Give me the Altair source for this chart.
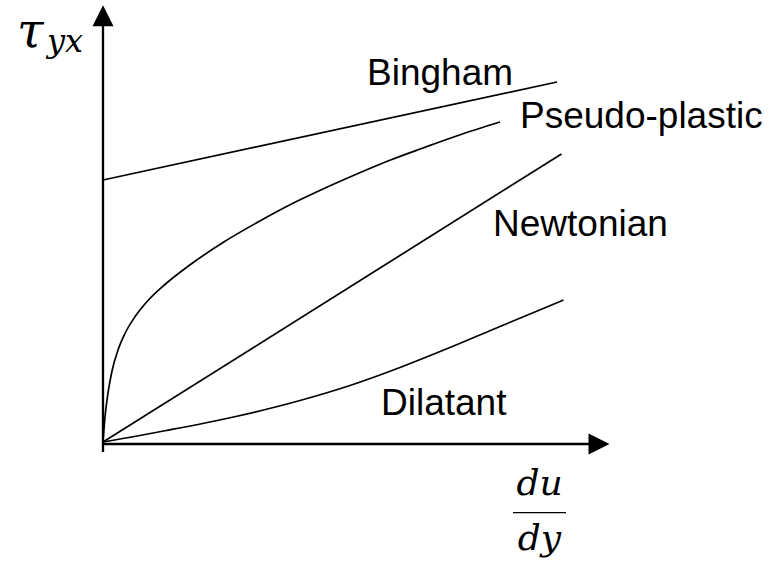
import altair as alt
import pandas as pd

# Flow curves: shear stress vs. shear rate (arbitrary units)
bingham_x = [0.0, 9.08]
bingham_y = [5.24, 7.20]

pseudo_x = [0.0, 0.04, 0.10, 0.18, 0.30, 0.45, 0.65, 0.90, 1.25, 1.75,
            2.40, 3.10, 3.75, 4.40, 5.10, 5.75, 6.40, 7.10, 7.94]
pseudo_y = [0.0, 0.50, 0.98, 1.42, 1.84, 2.19, 2.52, 2.83, 3.16, 3.55,
            3.99, 4.40, 4.75, 5.06, 5.37, 5.64, 5.88, 6.13, 6.40]

newton_x = [0.0, 9.17]
newton_y = [0.0, 5.76]

dilatant_x = [0.0, 1.27, 2.61, 3.94, 4.94, 5.94, 6.94, 7.94, 9.21]
dilatant_y = [0.0, 0.23, 0.50, 0.83, 1.13, 1.49, 1.89, 2.31, 2.84]

# Curve names and where each name is written
label_names = ["Bingham", "Pseudo-plastic", "Newtonian", "Dilatant"]
label_x = [5.28, 8.34, 7.80, 5.56]
label_y = [7.14, 6.28, 4.12, 0.54]

W, H = 777, 568
xs = alt.Scale(domain=[-2.06, 13.48], nice=False, zero=False)
ys = alt.Scale(domain=[-2.52, 8.84], nice=False, zero=False)


def xy(xf="x", yf="y"):
    return dict(
        x=alt.X(f"{xf}:Q", scale=xs, axis=None),
        y=alt.Y(f"{yf}:Q", scale=ys, axis=None),
    )


rows = []
for name, xv, yv in [("Bingham", bingham_x, bingham_y),
                     ("Pseudo-plastic", pseudo_x, pseudo_y),
                     ("Newtonian", newton_x, newton_y),
                     ("Dilatant", dilatant_x, dilatant_y)]:
    for i, (a, b) in enumerate(zip(xv, yv)):
        rows.append({"fluid": name, "x": a, "y": b, "i": i})
curves_df = pd.DataFrame(rows)

curves = alt.Chart(curves_df).mark_line(
    color="black", strokeWidth=1.7, interpolate="monotone"
).encode(detail="fluid:N", order="i:Q", **xy())

# Coordinate axes with arrow heads
axes_df = pd.DataFrame({
    "x": [-0.02, 0.0], "x2": [9.74, 0.0],
    "y": [-0.04, -0.20], "y2": [-0.04, 8.32],
})
axes = alt.Chart(axes_df).mark_rule(color="black", strokeWidth=2.3).encode(
    x2="x2:Q", y2="y2:Q", **xy()
)

right_head = alt.Chart(pd.DataFrame({"x": [9.92], "y": [-0.04]})).mark_point(
    shape="M1,0L-1,-1L-1,1Z", filled=True, size=441, color="black",
    opacity=1, strokeWidth=0
).encode(**xy())

up_head = alt.Chart(pd.DataFrame({"x": [0.0], "y": [8.525]})).mark_point(
    shape="M0,-1L1,1L-1,1Z", filled=True, size=441, color="black",
    opacity=1, strokeWidth=0
).encode(**xy())

labels = alt.Chart(pd.DataFrame({
    "x": label_x, "y": label_y, "t": label_names
})).mark_text(
    align="left", baseline="alphabetic", font="Liberation Sans",
    fontSize=37, color="black"
).encode(text="t:N", **xy())

# Axis titles: tau_yx and du/dy
tau = alt.Chart(pd.DataFrame({"x": [-1.72], "y": [7.90], "t": ["τ"]})).mark_text(
    align="left", baseline="alphabetic", font="DejaVu Serif",
    fontStyle="italic", fontSize=48, color="black"
).encode(text="t:N", **xy())

tau_sub = alt.Chart(pd.DataFrame({"x": [-1.12], "y": [7.80], "t": ["yx"]})).mark_text(
    align="left", baseline="alphabetic", font="DejaVu Serif",
    fontStyle="italic", fontSize=32, color="black"
).encode(text="t:N", **xy())

frac_text = alt.Chart(pd.DataFrame({
    "x": [8.73, 8.73], "y": [-1.06, -2.16], "t": ["du", "dy"]
})).mark_text(
    align="center", baseline="alphabetic", font="DejaVu Serif",
    fontStyle="italic", fontSize=36, color="black"
).encode(text="t:N", **xy())

frac_bar = alt.Chart(pd.DataFrame({
    "x": [8.20], "x2": [9.26], "y": [-1.414]
})).mark_rule(color="black", strokeWidth=1.2).encode(x2="x2:Q", **xy())

chart = alt.layer(
    curves, axes, right_head, up_head, labels, tau, tau_sub, frac_text, frac_bar
).properties(
    width=W, height=H,
    autosize=alt.AutoSizeParams(type="none"),
    padding=0,
    background="white",
).configure_view(stroke=None)

chart.save("out.html", embed_options={"renderer": "svg", "actions": False})
